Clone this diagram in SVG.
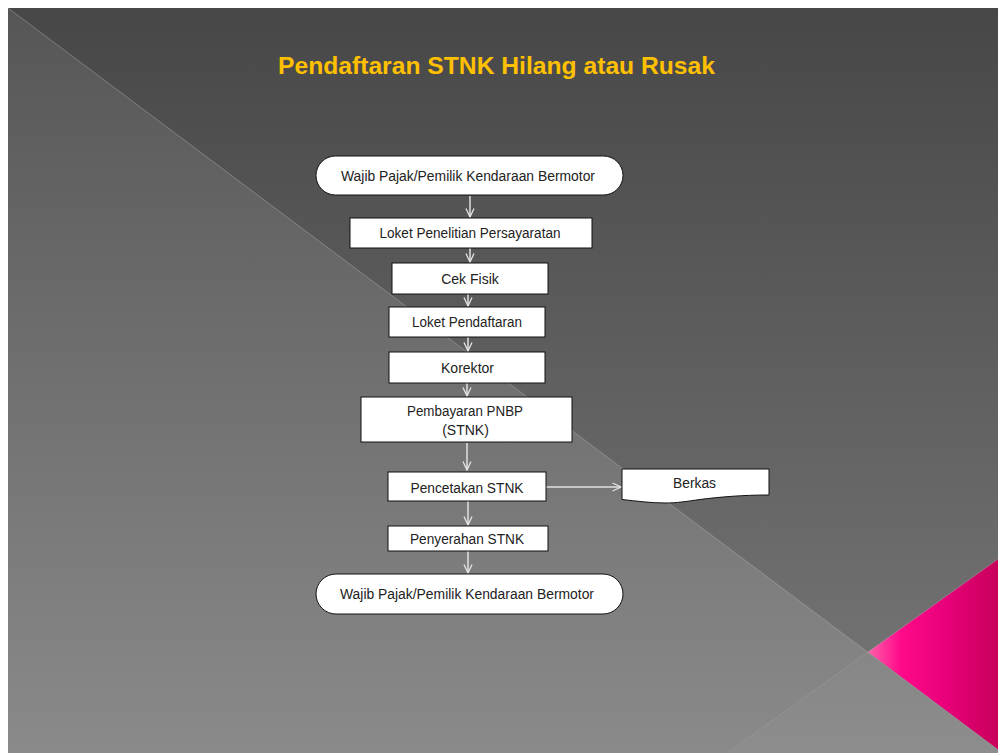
<svg xmlns="http://www.w3.org/2000/svg" width="998" height="753" viewBox="0 0 998 753">
<defs>
<linearGradient id="bgTop" x1="0" y1="8" x2="0" y2="753" gradientUnits="userSpaceOnUse">
<stop offset="0" stop-color="#474747"/><stop offset="1" stop-color="#787878"/>
</linearGradient>
<linearGradient id="bgLow" x1="0" y1="8" x2="0" y2="753" gradientUnits="userSpaceOnUse">
<stop offset="0" stop-color="#565656"/><stop offset="1" stop-color="#8a8a8a"/>
</linearGradient>
<linearGradient id="pink" x1="868" y1="0" x2="998" y2="0" gradientUnits="userSpaceOnUse">
<stop offset="0" stop-color="#ff62ab"/><stop offset="0.25" stop-color="#ff0a8a"/><stop offset="0.6" stop-color="#e8007a"/><stop offset="1" stop-color="#c8005a"/>
</linearGradient>
<marker id="arr" viewBox="0 0 10 10" refX="9.5" refY="5" markerWidth="10" markerHeight="10" markerUnits="userSpaceOnUse" orient="auto">
<path d="M1,1 L9.5,5 L1,9" fill="none" stroke="#e4e4e4" stroke-width="1.3"/>
</marker>
<style>
.box{fill:#ffffff;stroke:#111111;stroke-width:1}
.lbl{font-family:"Liberation Sans",Arial,sans-serif;font-size:14px;fill:#222222;text-anchor:middle}
.con{stroke:#e0e0e0;stroke-width:1.5;fill:none;marker-end:url(#arr)}
.bgline{stroke:#a0a0a0;stroke-opacity:0.55;stroke-width:1;fill:none}
.title{font-family:"Liberation Sans",Arial,sans-serif;font-size:24px;font-weight:bold;fill:#ffc000}
</style>
</defs>
<rect x="0" y="0" width="998" height="753" fill="#ffffff"/>
<rect x="8" y="8" width="990" height="745" fill="url(#bgTop)"/>
<polygon points="8,8 868,652 727,753 8,753" fill="url(#bgLow)"/>
<polygon points="727,753 868,652 998,749.5 998,753" fill="url(#bgLow)"/>
<polygon points="727,753 868,652 998,749.5 998,753" fill="#ffffff" fill-opacity="0.03"/>
<polygon points="868,652 998,559 998,749.5" fill="url(#pink)"/>
<line class="bgline" x1="8" y1="8" x2="998" y2="750"/>
<line class="bgline" x1="727" y1="753" x2="998" y2="559"/>

<text class="title" x="278" y="74" textLength="437" lengthAdjust="spacingAndGlyphs">Pendaftaran STNK Hilang atau Rusak</text>

<g id="connectors">
<line class="con" x1="470" y1="196" x2="470" y2="217"/>
<line class="con" x1="470" y1="248" x2="470" y2="262"/>
<line class="con" x1="468" y1="294" x2="468" y2="306"/>
<line class="con" x1="468" y1="337" x2="468" y2="351"/>
<line class="con" x1="467" y1="383" x2="467" y2="396"/>
<line class="con" x1="467" y1="443" x2="467" y2="470"/>
<line class="con" x1="468" y1="501" x2="468" y2="525"/>
<line class="con" x1="468" y1="551" x2="468" y2="573"/>
<line class="con" x1="546" y1="487" x2="621" y2="487"/>
</g>

<g id="start">
<rect class="box" x="316" y="156" width="307" height="39" rx="19.5" ry="19.5"/>
<text class="lbl" x="468" y="181" textLength="254" lengthAdjust="spacingAndGlyphs">Wajib Pajak/Pemilik Kendaraan Bermotor</text>
</g>
<g id="loket-penelitian">
<rect class="box" x="350" y="218" width="242" height="30"/>
<text class="lbl" x="470" y="238" textLength="181" lengthAdjust="spacingAndGlyphs">Loket Penelitian Persayaratan</text>
</g>
<g id="cek-fisik">
<rect class="box" x="392" y="263" width="156" height="31"/>
<text class="lbl" x="470" y="284">Cek Fisik</text>
</g>
<g id="loket-pendaftaran">
<rect class="box" x="389" y="307" width="156" height="30"/>
<text class="lbl" x="467" y="327" textLength="110" lengthAdjust="spacingAndGlyphs">Loket Pendaftaran</text>
</g>
<g id="korektor">
<rect class="box" x="389" y="352" width="156" height="31"/>
<text class="lbl" x="467.5" y="373" textLength="53" lengthAdjust="spacingAndGlyphs">Korektor</text>
</g>
<g id="pembayaran">
<rect class="box" x="361" y="397" width="211" height="45"/>
<text class="lbl" x="465" y="416" textLength="116" lengthAdjust="spacingAndGlyphs">Pembayaran PNBP</text>
<text class="lbl" x="465.5" y="435">(STNK)</text>
</g>
<g id="pencetakan">
<rect class="box" x="388" y="472" width="158" height="29"/>
<text class="lbl" x="467" y="493" textLength="113" lengthAdjust="spacingAndGlyphs">Pencetakan STNK</text>
</g>
<g id="berkas">
<path class="box" d="M622,469 H769 V495 C742,495 720,497 700,499.5 C686,501.5 676,503 666,503 C650,503 636,501 622,499.5 Z"/>
<text class="lbl" x="694.5" y="488" textLength="43" lengthAdjust="spacingAndGlyphs">Berkas</text>
</g>
<g id="penyerahan">
<rect class="box" x="388" y="526" width="160" height="25"/>
<text class="lbl" x="467" y="543.5" textLength="114" lengthAdjust="spacingAndGlyphs">Penyerahan STNK</text>
</g>
<g id="end">
<rect class="box" x="316" y="574" width="307" height="40" rx="20" ry="20"/>
<text class="lbl" x="467" y="599" textLength="254" lengthAdjust="spacingAndGlyphs">Wajib Pajak/Pemilik Kendaraan Bermotor</text>
</g>
</svg>
